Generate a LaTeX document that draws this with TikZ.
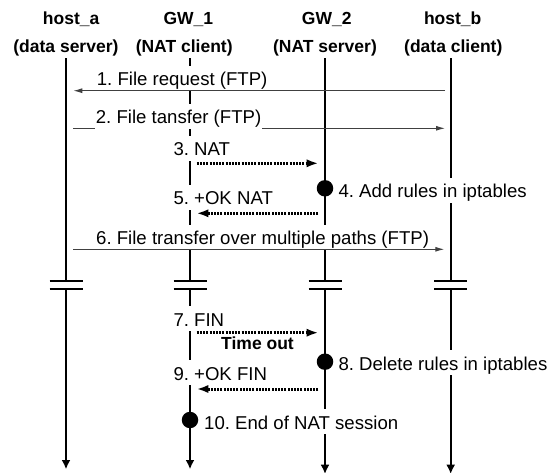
\documentclass[tikz,border=0pt]{standalone}
\usepackage{fontspec}
\setmainfont{Liberation Sans}
\usetikzlibrary{arrows.meta}
\frenchspacing
\begin{document}
\begin{tikzpicture}[x=1pt,y=-1pt,
  title/.style={font=\fontsize{17.5}{20}\selectfont\bfseries, inner sep=0pt, anchor=base},
  lbl/.style={font=\fontsize{18.6}{20}\selectfont, fill=white, inner xsep=1pt, inner ysep=0pt, text height=20pt, text depth=5pt, anchor=base west},
  life/.style={line width=2pt, draw=black},
  brk/.style={line width=2pt, draw=black},
  lifeend/.style={line width=2pt, draw=black, -{Latex[length=9.3pt,width=9pt]}},
  msg/.style={line width=1pt, draw=black!75, -{Latex[length=9pt,width=5pt]}},
  ctl/.style={line width=3pt, dash pattern=on 2pt off 1.2pt, -{Latex[length=11.7pt,width=8.3pt]}},
  evt/.style={circle, fill=black, inner sep=0pt, minimum size=16.5pt},
]
\useasboundingbox[fill=white] (0,0) rectangle (557,473);

% titles
\node[title] (ta1) at (71.2,25) {host\_a};
\node[title] (ta2) at (65.9,52.3) {(data server)};
\node[title] (tg1) at (188.3,25) {GW\_1};
\node[title] (tg2) at (184.2,52.3) {(NAT client)};
\node[title] (tn1) at (326.7,25) {GW\_2};
\node[title] (tn2) at (325,52.3) {(NAT server)};
\node[title] (tb1) at (452.7,25) {host\_b};
\node[title] (tb2) at (453.3,52.3) {(data client)};

% lifeline coordinates
\coordinate (a0) at (66,58.3);   \coordinate (a1) at (66,280.7);  \coordinate (a2) at (66,289.3);  \coordinate (a3) at (66,469.3);
\coordinate (g0) at (190,58.3);  \coordinate (g1) at (190,280.7); \coordinate (g2) at (190,289.3); \coordinate (g3) at (190,469.3);
\coordinate (n0) at (325,58.3);  \coordinate (n1) at (325,280.7); \coordinate (n2) at (325,289.3); \coordinate (n3) at (325,474);
\coordinate (b0) at (450.7,58.3);\coordinate (b1) at (450.7,280.7);\coordinate (b2) at (450.7,289.3);\coordinate (b3) at (450.7,474);

% lifelines
\foreach \p in {a,g,n,b}{
  \draw[life] (\p0) -- (\p1);
  \draw[lifeend] (\p2) -- (\p3);
  \draw[brk] ([xshift=-16.5pt]\p1) -- ([xshift=16.5pt]\p1);
  \draw[brk] ([xshift=-16.5pt]\p2) -- ([xshift=16.5pt]\p2);
}

% message coordinates
\coordinate (m1s) at (445,90.7);   \coordinate (m1e) at (73.3,90.7);
\coordinate (m2s) at (73.3,128.3); \coordinate (m2e) at (445,128.3);
\coordinate (m3s) at (196.7,163.3);\coordinate (m3e) at (318.3,163.3);
\coordinate (m5s) at (318.3,213.3);\coordinate (m5e) at (196.7,213.3);
\coordinate (m6s) at (73.3,249.3); \coordinate (m6e) at (444.3,249.3);
\coordinate (m7s) at (196.7,332.7);\coordinate (m7e) at (318.3,332.7);
\coordinate (m9s) at (318.3,389);  \coordinate (m9e) at (196.7,389);

\draw[msg] (m2s) -- (m2e);

% labels
\node[lbl] (l1) at (95.7,86) {1. File request (FTP)};
\node[lbl] (l2) at (94.7,124) {2. File tansfer (FTP)};
\node[lbl] (l3) at (172.3,156) {3. NAT};
\node[lbl] (l4) at (337.3,197.7) {4. Add rules in iptables};
\node[lbl] (l5) at (172.3,205) {5. +OK NAT};
\node[lbl] (l6) at (95,245) {6. File transfer over multiple paths (FTP)};
\node[lbl] (l7) at (172.3,326) {7. FIN};
\node[lbl] (l8) at (337.3,370) {8. Delete rules in iptables};
\node[lbl] (l9) at (172.3,380) {9. +OK FIN};
\node[lbl] (l10) at (203,429) {10. End of NAT session};

\draw[msg] (m1s) -- (m1e);
\draw[msg] (m6s) -- (m6e);
\draw[ctl] (m3s) -- (m3e);
\draw[ctl] (m5s) -- (m5e);
\draw[ctl] (m7s) -- (m7e);
\draw[ctl] (m9s) -- (m9e);

\node[title] (tout) at (257.5,349.3) {Time out};

\node[evt] (e4) at (325,188.3) {};
\node[evt] (e8) at (325,361.7) {};
\node[evt] (e10) at (190,420) {};
\end{tikzpicture}
\end{document}
